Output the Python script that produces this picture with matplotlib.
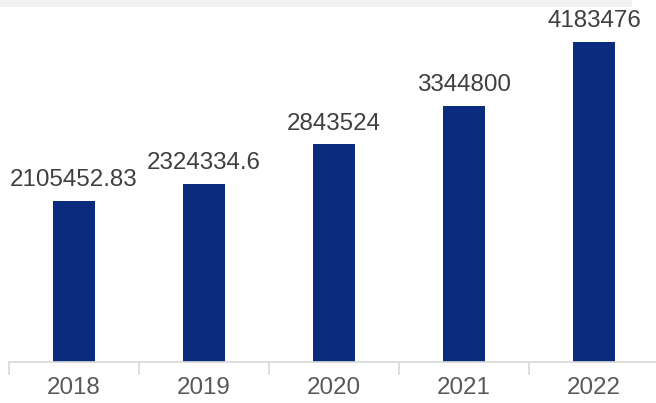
import matplotlib.pyplot as plt
from matplotlib.patches import Rectangle

# yearly values
years = ['2018', '2019', '2020', '2021', '2022']
values = [2105452.83, 2324334.6, 2843524, 3344800, 4183476]
labels = ['2105452.83', '2324334.6', '2843524', '3344800', '4183476']

plt.rcParams['font.family'] = ['Liberation Sans', 'DejaVu Sans']

fig = plt.figure(figsize=(6.56, 4.03), dpi=100)
# thin light grey strip along the top edge
fig.patches.append(Rectangle((0, 0.982), 0.963, 0.018, transform=fig.transFigure,
                             facecolor='#f2f2f2', edgecolor='none'))

ax = fig.add_axes([9 / 656, 41 / 403, 650 / 656, 362 / 403])
x = range(len(years))
ax.bar(x, values, width=0.32, color='#0a2b7e', zorder=2)

for i, (v, lab) in enumerate(zip(values, labels)):
    ax.annotate(lab, (i, v), xytext=(0, 7), textcoords='offset points',
                ha='center', va='bottom', fontsize=17.4, color='#404040')

ax.set_xlim(-0.5, 4.5)
ax.set_ylim(0, 4.73e6)
ax.set_xticks([i + 0.5 for i in range(-1, 5)], minor=False)
ax.set_xticklabels([])
ax.set_xticks(list(x), minor=True)
ax.set_xticklabels(years, minor=True)
ax.tick_params(axis='x', which='major', length=9, color='#d9d9d9', width=1.2)
ax.tick_params(axis='x', which='minor', length=0, pad=11, labelsize=17.4, labelcolor='#595959')
ax.set_yticks([])
for s in ['top', 'right', 'left']:
    ax.spines[s].set_visible(False)
ax.spines['bottom'].set_color('#d9d9d9')
ax.spines['bottom'].set_linewidth(1.2)
ax.patch.set_alpha(0)

fig.savefig('out.png', dpi=100)
